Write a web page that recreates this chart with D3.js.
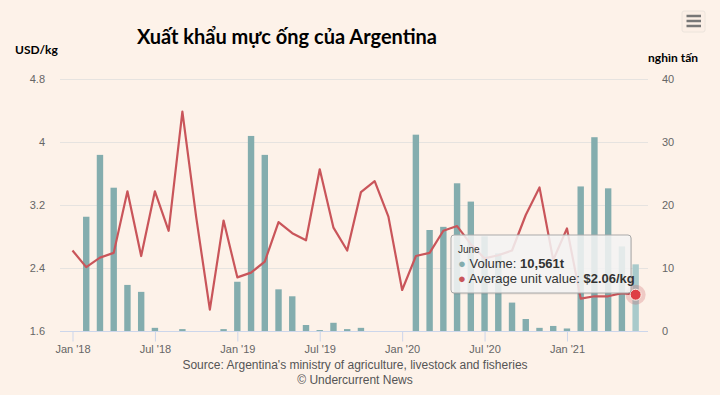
<!DOCTYPE html>
<html>
<head>
<meta charset="utf-8">
<script src="https://cdn.jsdelivr.net/npm/d3@7"></script>
<style>
  body { margin: 0; background: #fdf2e9; }
  svg text { font-family: "Liberation Sans Narrow", "Liberation Sans", Arial, sans-serif; }
</style>
</head>
<body>
<script>
// monthly, Jan 2018 - Jun 2021
var monthIndex = d3.range(42);
var tickMonths = [0, 6, 12, 18, 24, 30, 36];
var tickLabels = ["Jan '18", "Jul '18", "Jan '19", "Jul '19", "Jan '20", "Jul '20", "Jan '21"];

// volume, thousand tonnes
var volume = [
    0, 18.1, 27.9, 22.7, 7.3, 6.2, 0.5, 0, 0.3, 0, 0, 0.3,
    7.8, 30.9, 27.9, 6.6, 5.5, 0.95, 0.15, 1.3, 0.3, 0.5, 0, 0,
    0, 31.1, 16.0, 16.5, 23.4, 20.5, 15.0, 12.3, 4.5, 1.9, 0.5, 0.8,
    0.4, 22.9, 30.7, 22.6, 13.4, 10.561
];

// average unit value, USD/kg
var unitValue = [
    2.62, 2.41, 2.53, 2.59, 3.37, 2.55, 3.37, 2.87, 4.38, 3.05, 1.87, 3.0,
    2.28, 2.34, 2.48, 2.98, 2.84, 2.75, 3.65, 2.91, 2.62, 3.36, 3.5, 3.05,
    2.12, 2.55, 2.59, 2.87, 2.93, 2.7, 2.52, 2.56, 2.62, 3.07, 3.42, 2.5,
    2.9, 2.01, 2.04, 2.04, 2.08, 2.06
];

var leftTicks = [1.6, 2.4, 3.2, 4, 4.8];
var rightTicks = [0, 10, 20, 30, 40];

const w = 720;
const h = 395;
const barColor = "#84adae";
const lineColor = "#c9555a";

const x = d3.scaleLinear()
    .domain([-0.91, 41.9])
    .range([60, 648]);

const yL = d3.scaleLinear()
    .domain([1.6, 4.8])
    .range([331, 78.5]);

const yR = d3.scaleLinear()
    .domain([0, 40])
    .range([331, 78.5]);

const svg = d3.select("body")
    .append("svg")
    .attr("width", w)
    .attr("height", h);

svg.append("rect")
    .attr("width", w)
    .attr("height", h)
    .attr("fill", "#fdf2e9");

// grid lines
svg.append("g")
    .selectAll("line")
    .data(leftTicks.slice(1))
    .enter()
    .append("line")
    .attr("x1", 60)
    .attr("x2", 648)
    .attr("y1", d => Math.round(yL(d)) + 0.5)
    .attr("y2", d => Math.round(yL(d)) + 0.5)
    .attr("stroke", "#e6e3e0")
    .attr("stroke-width", 1);

// left axis
const leftAxis = d3.axisLeft(yL)
    .tickValues(leftTicks)
    .tickSize(0)
    .tickPadding(15)
    .tickFormat(d => d);
const gl = svg.append("g")
    .attr("transform", "translate(60,0)")
    .call(leftAxis);
gl.select(".domain").remove();
gl.selectAll("text").attr("fill", "#666").style("font-size", "11px");

// right axis
const rightAxis = d3.axisRight(yR)
    .tickValues(rightTicks)
    .tickSize(0)
    .tickPadding(14)
    .tickFormat(d => d);
const gr = svg.append("g")
    .attr("transform", "translate(648,0)")
    .call(rightAxis);
gr.select(".domain").remove();
gr.selectAll("text").attr("fill", "#666").style("font-size", "11px");

// bars
svg.append("g")
    .selectAll("rect")
    .data(monthIndex)
    .enter()
    .append("rect")
    .attr("x", i => x(i) - 3.2)
    .attr("y", i => yR(volume[i]))
    .attr("width", 6.4)
    .attr("height", i => yR(0) - yR(volume[i]))
    .attr("fill", i => i === 41 ? "#a9cacb" : barColor);

// x axis
const xAxis = d3.axisBottom(x)
    .tickValues(tickMonths)
    .tickSize(10)
    .tickPadding(4)
    .tickFormat((d, i) => tickLabels[i]);
const gx = svg.append("g")
    .attr("transform", "translate(0,331.5)")
    .call(xAxis);
gx.select(".domain").attr("stroke", "#ccd6eb").attr("d", "M60,0H648");
gx.selectAll(".tick line").attr("stroke", "#ccd6eb");
gx.selectAll("text").attr("fill", "#666").style("font-size", "11px");

// unit value line
const line = d3.line()
    .x(i => x(i))
    .y(i => yL(unitValue[i]));

svg.append("path")
    .datum(monthIndex)
    .attr("d", line)
    .attr("fill", "none")
    .attr("stroke", lineColor)
    .attr("stroke-width", 2.2)
    .attr("stroke-linejoin", "round");

// hovered point
svg.append("circle")
    .attr("cx", x(41))
    .attr("cy", yL(unitValue[41]))
    .attr("r", 10)
    .attr("fill", lineColor)
    .attr("opacity", 0.25);
svg.append("circle")
    .attr("cx", x(41))
    .attr("cy", yL(unitValue[41]))
    .attr("r", 5.5)
    .attr("fill", "#de3f45")
    .attr("stroke", "#fdf2e9")
    .attr("stroke-width", 1);

// tooltip
const tip = svg.append("g").attr("transform", "translate(451,235)");
tip.append("rect")
    .attr("x", 1).attr("y", 1.5)
    .attr("width", 180).attr("height", 58)
    .attr("rx", 3)
    .attr("fill", "rgba(0,0,0,0.08)");
tip.append("rect")
    .attr("width", 180).attr("height", 58)
    .attr("rx", 3)
    .attr("fill", "rgba(247,247,247,0.85)")
    .attr("stroke", "#a9a9a9")
    .attr("stroke-width", 1);
tip.append("text")
    .attr("x", 7).attr("y", 18)
    .style("font-size", "10px")
    .attr("fill", "#333")
    .text("June");
const t1 = tip.append("text").attr("x", 7).attr("y", 33).style("font-size", "13px").attr("fill", "#333");
t1.append("tspan").attr("fill", barColor).text("\u25CF ");
t1.append("tspan").text("Volume: ");
t1.append("tspan").style("font-weight", "bold").text("10,561t");
const t2 = tip.append("text").attr("x", 7).attr("y", 48).style("font-size", "13px").attr("fill", "#333");
t2.append("tspan").attr("fill", lineColor).text("\u25CF ");
t2.append("tspan").text("Average unit value: ");
t2.append("tspan").style("font-weight", "bold").text("$2.06/kg");

// titles
svg.append("text")
    .attr("x", 287)
    .attr("y", 44)
    .attr("text-anchor", "middle")
    .style("font-family", "Lato, sans-serif")
    .style("font-weight", "bold")
    .style("font-size", "20px")
    .attr("fill", "#000")
    .text("Xuất khẩu mực ống của Argentina");

svg.append("text")
    .attr("x", 15)
    .attr("y", 54)
    .style("font-family", "Lato, sans-serif")
    .style("font-weight", "bold")
    .style("font-size", "12px")
    .attr("fill", "#000")
    .text("USD/kg");

svg.append("text")
    .attr("x", 698)
    .attr("y", 62)
    .attr("text-anchor", "end")
    .style("font-family", "Lato, sans-serif")
    .style("font-weight", "bold")
    .style("font-size", "12px")
    .attr("fill", "#000")
    .text("nghìn tấn");

// source
svg.append("text")
    .attr("x", 355)
    .attr("y", 369)
    .attr("text-anchor", "middle")
    .style("font-size", "12px")
    .attr("fill", "#555")
    .text("Source: Argentina's ministry of agriculture, livestock and fisheries");
svg.append("text")
    .attr("x", 355)
    .attr("y", 384)
    .attr("text-anchor", "middle")
    .style("font-size", "12px")
    .attr("fill", "#555")
    .text("© Undercurrent News");

// menu button
const menu = svg.append("g").attr("transform", "translate(682,11)");
menu.append("rect")
    .attr("width", 23).attr("height", 21)
    .attr("rx", 2)
    .attr("fill", "#fbefe6")
    .attr("stroke", "#ece4dc");
[5, 10, 15].forEach(yy => {
    menu.append("line")
        .attr("x1", 4.5).attr("x2", 19)
        .attr("y1", yy).attr("y2", yy)
        .attr("stroke", "#777")
        .attr("stroke-width", 2.5);
});
</script>
</body>
</html>
